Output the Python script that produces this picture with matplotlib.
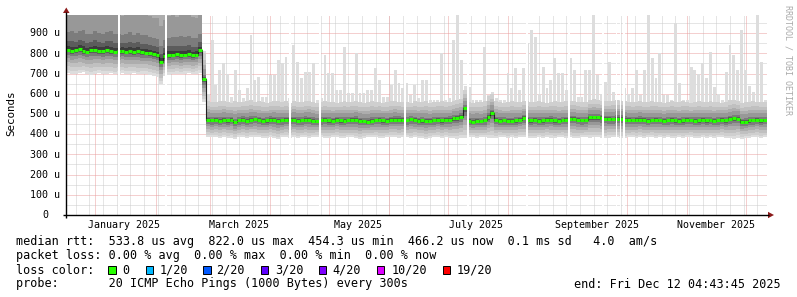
import pandas as pd
import matplotlib
matplotlib.use("Agg")
import matplotlib.pyplot as plt
import matplotlib.dates as mdates
from matplotlib.patches import Rectangle, Polygon

# smokeping style graph, last 360 days, 2 day consolidation steps
start_time = "2024-12-17 04:43:45"
end_time = "2025-12-12 04:43:45"

# median rtt per step (microseconds)
rtt_median = [
    818, 812, 815, 820, 812, 808, 815, 818, 812, 810,
    815, 812, 808, 810, 812, 808, 810, 806, 810, 805,
    802, 800, 796, 790, 758, 785, 790, 792, 795, 790,
    792, 795, 790, 792, 815, 672, 470, 468, 472, 466,
    470, 468, 472, 458, 468, 472, 466, 470, 474, 470,
    466, 468, 472, 470, 466, 468, 470, 472, 470, 466,
    468, 472, 470, 466, 464, 468, 470, 468, 466, 470,
    468, 466, 468, 470, 472, 466, 464, 462, 466, 468,
    470, 468, 466, 470, 472, 472, 470, 468, 474, 470,
    466, 468, 464, 466, 468, 470, 468, 470, 472, 478,
    480, 487, 528, 465, 462, 466, 464, 468, 485, 505,
    470, 466, 468, 466, 464, 468, 470, 480, 470, 468,
    470, 466, 468, 470, 472, 468, 466, 468, 470, 475,
    476, 470, 468, 468, 484, 484, 484, 480, 476, 475,
    474, 477, 477, 472, 470, 468, 470, 472, 470, 466,
    468, 470, 468, 466, 468, 470, 468, 466, 468, 470,
    468, 466, 468, 470, 468, 468, 466, 468, 470, 468,
    475, 478, 477, 460, 462, 468, 468, 470, 468, 468,
]

# fastest ping per step
rtt_min = [
    705, 700, 698, 702, 706, 700, 695, 698, 704, 700,
    698, 702, 696, 700, 704, 698, 700, 702, 696, 698,
    700, 695, 690, 685, 650, 690, 694, 698, 700, 696,
    700, 702, 698, 700, 705, 560, 388, 384, 386, 382,
    385, 380, 383, 378, 384, 386, 382, 385, 388, 384,
    380, 383, 386, 382, 378, 384, 386, 383, 385, 380,
    384, 386, 382, 385, 388, 384, 382, 380, 384, 386,
    383, 381, 385, 384, 380, 378, 382, 385, 384, 386,
    383, 380, 384, 386, 385, 383, 386, 384, 382, 385,
    383, 380, 378, 382, 384, 386, 383, 385, 382, 380,
    378, 382, 380, 384, 386, 383, 385, 384, 382, 380,
    383, 386, 384, 382, 385, 383, 386, 384, 381, 383,
    380, 384, 382, 385, 383, 381, 384, 386, 383, 385,
    382, 380, 384, 386, 383, 385, 384, 382, 380, 383,
    385, 384, 382, 380, 384, 386, 383, 385, 382, 384,
    386, 383, 385, 382, 384, 380, 383, 385, 382, 384,
    386, 383, 381, 384, 382, 385, 383, 384, 386, 382,
    380, 378, 383, 376, 380, 383, 384, 386, 382, 385,
]

# upper edge of the dense smoke per step
rtt_top = [
    1300, 1350, 1280, 1320, 1380, 1300, 1260, 1340, 1300, 1290,
    1320, 1360, 1300, 1280, 1250, 1300, 1330, 1290, 1310, 1280,
    1300, 1260, 1240, 1250, 1200, 1230, 1280, 1300, 1260, 1320,
    1290, 1300, 1270, 1250, 1260, 800, 565, 560, 558, 562,
    566, 560, 555, 562, 558, 560, 563, 568, 560, 562,
    558, 556, 560, 564, 566, 560, 562, 556, 565, 560,
    558, 562, 566, 560, 555, 558, 562, 560, 558, 556,
    560, 564, 558, 560, 562, 558, 556, 560, 562, 558,
    560, 556, 558, 562, 565, 560, 558, 560, 556, 562,
    558, 560, 562, 556, 558, 560, 562, 558, 560, 565,
    570, 575, 620, 560, 556, 558, 560, 562, 590, 600,
    566, 560, 556, 558, 562, 560, 558, 565, 562, 560,
    558, 562, 560, 556, 560, 562, 558, 560, 562, 565,
    566, 560, 558, 560, 570, 572, 570, 566, 564, 562,
    566, 568, 566, 562, 560, 558, 560, 562, 558, 560,
    562, 560, 558, 556, 560, 562, 560, 558, 562, 560,
    556, 560, 562, 558, 560, 562, 558, 560, 556, 560,
    568, 570, 566, 556, 558, 560, 562, 560, 558, 560,
]

# slowest ping per step
rtt_max = [
    1500, 1500, 1500, 1500, 1500, 1500, 1500, 1500, 1500, 1500,
    1500, 1500, 1500, 1500, 1500, 1500, 1500, 1500, 1500, 1500,
    1500, 1500, 1500, 1500, 1500, 1500, 1500, 1500, 1500, 1500,
    1500, 1500, 1500, 1500, 1500, 810, 600, 867, 644, 718,
    751, 700, 586, 718, 620, 580, 627, 891, 670, 685,
    586, 586, 693, 693, 767, 750, 784, 577, 842, 759,
    677, 710, 710, 750, 570, 580, 792, 701, 701, 620,
    620, 834, 603, 603, 800, 603, 603, 620, 620, 726,
    670, 586, 586, 644, 718, 652, 627, 652, 594, 644,
    580, 669, 669, 570, 570, 570, 800, 570, 577, 867,
    1000, 767, 640, 636, 570, 570, 570, 834, 594, 610,
    580, 570, 570, 701, 627, 726, 620, 726, 850, 916,
    883, 600, 734, 627, 669, 775, 701, 701, 620, 775,
    718, 586, 586, 718, 718, 1000, 693, 600, 660, 759,
    611, 570, 570, 627, 600, 627, 718, 594, 718, 1000,
    775, 677, 800, 594, 594, 570, 950, 652, 570, 570,
    734, 718, 700, 750, 677, 809, 636, 600, 570, 710,
    842, 792, 718, 916, 718, 640, 611, 1000, 759, 570,
]

# times with no data
missing_days = [
    "2025-01-13 10:00", "2025-02-06 14:00", "2025-04-11 05:00", "2025-04-26 17:00",
    "2025-06-09 07:00", "2025-07-11 17:00", "2025-08-11 00:00", "2025-09-01 12:00",
    "2025-09-19 00:00", "2025-09-26 00:00", "2025-09-28 00:00", "2025-09-29 18:00",
]

y_ticks = [0, 100, 200, 300, 400, 500, 600, 700, 800, 900]
y_labels = ["0", "100 u", "200 u", "300 u", "400 u", "500 u", "600 u", "700 u", "800 u", "900 u"]
x_labels = ["January 2025", "March 2025", "May 2025", "July 2025", "September 2025", "November 2025"]
x_label_dates = ["2025-01-16", "2025-03-16", "2025-05-16", "2025-07-16", "2025-09-16", "2025-11-16"]

loss_names = ["0", "1/20", "2/20", "3/20", "4/20", "10/20", "19/20"]
loss_colors = ["#26ff00", "#00b8ff", "#0059ff", "#5e00ff", "#7e00ff", "#dd00ff", "#ff0000"]

shade_colors = ["#cfcfcf", "#c0c0c0", "#adadad", "#989898", "#7c7c7c", "#5c5c5c", "#3c3c3c"]
frac_low = [0.88, 0.72, 0.55, 0.38, 0.24, 0.12, 0.05]
frac_up = [1.0, 0.75, 0.55, 0.40, 0.18, 0.09, 0.04]

mono = "DejaVu Sans Mono"
W, H = 797, 297

fig = plt.figure(figsize=(W / 100, H / 100), dpi=100)
fig.patch.set_facecolor("white")

# plot area: x 66..767, y 215 (0) .. 15 (990 u)
ax = fig.add_axes([66 / W, (H - 215) / H, 701 / W, 200 / H])
for s in ax.spines.values():
    s.set_visible(False)
ax.set_xticks([])
ax.set_yticks([])

t0 = mdates.date2num(pd.Timestamp(start_time).to_pydatetime())
t1 = mdates.date2num(pd.Timestamp(end_time).to_pydatetime())
edges = mdates.date2num(pd.date_range(start_time, end_time, periods=len(rtt_median) + 1).to_pydatetime())
step = edges[1] - edges[0]

ax.set_xlim(t0, t1)
ax.set_ylim(0, 990)

dot = (0, (1, 1))
minor_c = "#cccccc"
major_c = "#eaa0a0"
# grid
for d in pd.date_range(start_time, end_time, freq="W-SUN"):
    ax.axvline(mdates.date2num(d.to_pydatetime()), color=minor_c, lw=0.72, ls=dot, zorder=0.5)
for v in range(50, 1000, 100):
    ax.axhline(v, color=minor_c, lw=0.72, ls=dot, zorder=0.5)
for d in pd.date_range(start_time, end_time, freq="MS"):
    ax.axvline(mdates.date2num(d.to_pydatetime()), color=major_c, lw=0.72, ls=dot, zorder=0.6)
for v in y_ticks[1:]:
    ax.axhline(v, color=major_c, lw=0.72, ls=dot, zorder=0.6)


def ext(a):
    return list(a) + [a[-1]]


# smoke: outer pings first, darker towards the median
ax.bar(edges[:-1] + step / 2, [mx - t for mx, t in zip(rtt_max, rtt_top)], width=step * 0.75,
       bottom=rtt_top, color="#dddddd", lw=0, zorder=2)
ax.fill_between(edges, ext(rtt_min), ext(rtt_top), step="post", color="#dddddd", lw=0, zorder=2)
for c, fl, fu in zip(shade_colors, frac_low, frac_up):
    lo = [m - fl * (m - b) for m, b in zip(rtt_median, rtt_min)]
    hi = [m + fu * (t - m) for m, t in zip(rtt_median, rtt_top)]
    ax.fill_between(edges, ext(lo), ext(hi), step="post", color=c, lw=0, zorder=2)

# median line
ax.step(edges, ext(rtt_median), where="post", color="#202020", lw=0.8, zorder=3)
ax.hlines(rtt_median, edges[:-1], edges[1:], color=loss_colors[0], lw=2.2, zorder=4)

for g in missing_days:
    gx = mdates.date2num(pd.Timestamp(g).to_pydatetime())
    ax.axvspan(gx - 0.4, gx + 0.4, color="white", lw=0, zorder=5)

# month labels
for lab, d in zip(x_labels, x_label_dates):
    ax.text(mdates.date2num(pd.Timestamp(d).to_pydatetime()), -0.0675, lab,
            transform=ax.get_xaxis_transform(), ha="center", va="baseline",
            fontsize=7.2, family=mono, color="#000000", clip_on=False)

# overlay in pixel coordinates for axes, arrows and legend
ov = fig.add_axes([0, 0, 1, 1], zorder=10)
ov.set_xlim(0, W)
ov.set_ylim(H, 0)
ov.axis("off")

ov.plot([63, 769], [215, 215], color="#000000", lw=1.0, solid_capstyle="butt")
ov.plot([66, 66], [218, 12], color="#000000", lw=1.0, solid_capstyle="butt")
ov.add_patch(Polygon([[63, 13], [69.5, 13], [66.3, 7.5]], closed=True, color="#8b1a1a", lw=0))
ov.add_patch(Polygon([[768, 211.8], [768, 218.2], [774, 215]], closed=True, color="#8b1a1a", lw=0))

for v, lab in zip(y_ticks, y_labels):
    y = 215 - v * 0.202
    if v == 0:
        ov.text(48.5, y + 3.2, lab, ha="right", va="baseline", fontsize=7.2, family=mono)
    else:
        ov.text(60, y + 3.2, lab, ha="right", va="baseline", fontsize=7.2, family=mono)

ov.text(11, 113, "Seconds", rotation=90, ha="center", va="center", fontsize=7.8, family=mono)
ov.text(788, 60, "RRDTOOL / TOBI OETIKER", rotation=270, ha="center", va="center",
        fontsize=6, family=mono, color="#aaaaaa")

leg = 8.5
ov.text(16, 245.5, "median rtt:  533.8 us avg  822.0 us max  454.3 us min  466.2 us now  0.1 ms sd   4.0  am/s",
        ha="left", va="baseline", fontsize=leg, family=mono)
ov.text(16, 259.5, "packet loss: 0.00 % avg  0.00 % max  0.00 % min  0.00 % now",
        ha="left", va="baseline", fontsize=leg, family=mono)
ov.text(16, 273.5, "loss color:", ha="left", va="baseline", fontsize=leg, family=mono)
box_x = [108.3, 145.7, 203.3, 261, 319, 376.7, 442.7]
text_x = [122.5, 159.3, 216.6, 275.3, 332.6, 391.8, 456.6]
for bx, tx, name, col in zip(box_x, text_x, loss_names, loss_colors):
    ov.add_patch(Rectangle((bx, 265.5), 7.5, 8.5, facecolor=col, edgecolor="#000000", lw=0.7))
    ov.text(tx, 273.5, name, ha="left", va="baseline", fontsize=leg, family=mono)
ov.text(16, 287.5, "probe:       20 ICMP Echo Pings (1000 Bytes) every 300s",
        ha="left", va="baseline", fontsize=leg, family=mono)
ov.text(780.5, 287.5, "end: Fri Dec 12 04:43:45 2025", ha="right", va="baseline", fontsize=leg, family=mono)

fig.savefig("out.png", dpi=100, facecolor="white")
